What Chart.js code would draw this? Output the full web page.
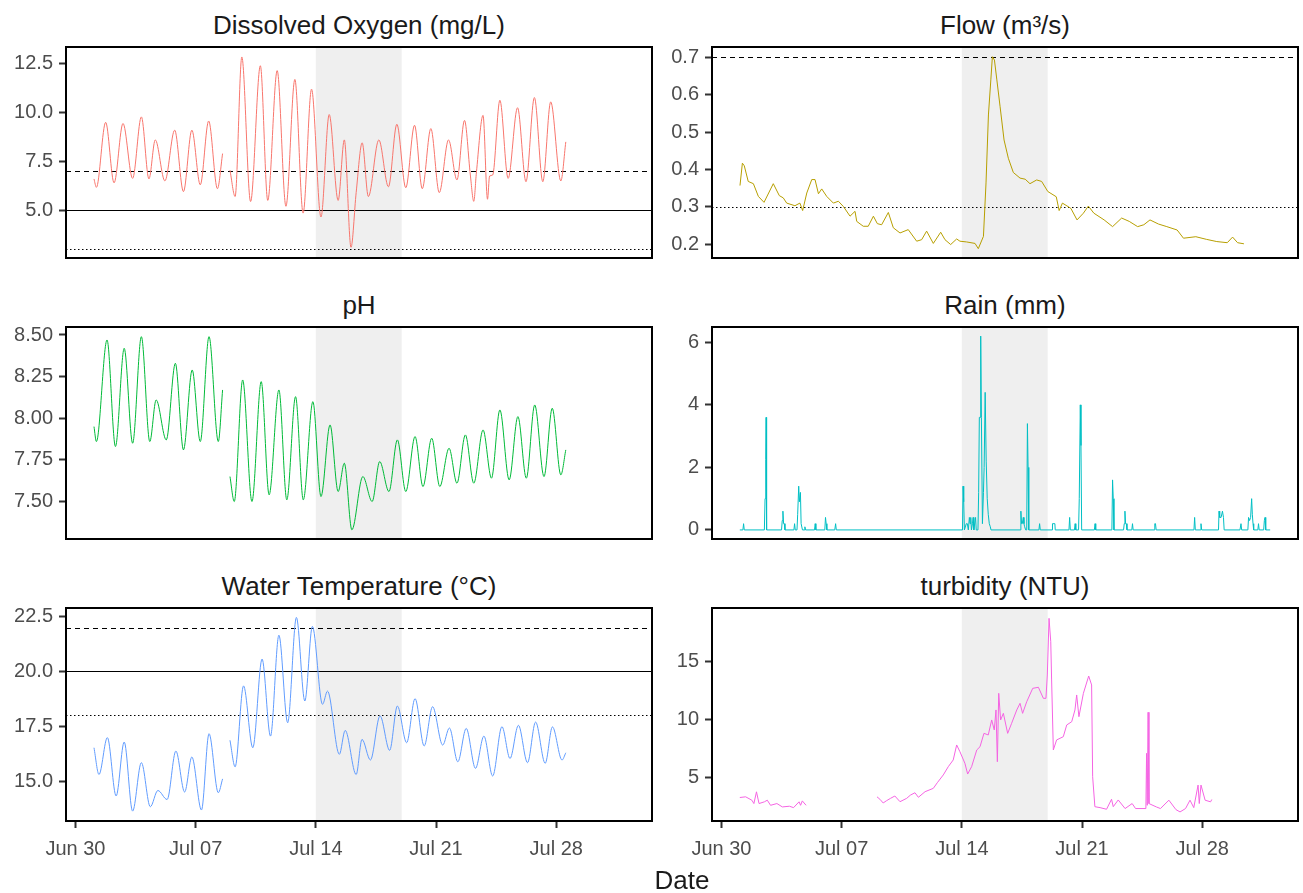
<!DOCTYPE html>
<html>
<head>
<meta charset="utf-8">
<script src="https://cdn.jsdelivr.net/npm/chart.js@4.4.1/dist/chart.umd.min.js"></script>
<style>
  body { margin:0; background:#fff; width:1303px; height:893px; position:relative; overflow:hidden;
         font-family:'Liberation Sans', Arial, sans-serif; }
  canvas { position:absolute; }
  .ttl { position:absolute; text-align:center; font-size:26px; line-height:30px; color:#1a1a1a; white-space:nowrap; }
</style>
</head>
<body>
<div class="ttl" style="left:66px;width:586px;top:10px">Dissolved Oxygen (mg/L)</div>
<div class="ttl" style="left:712px;width:586px;top:10px">Flow (m³/s)</div>
<div class="ttl" style="left:66px;width:586px;top:290px">pH</div>
<div class="ttl" style="left:712px;width:586px;top:290px">Rain (mm)</div>
<div class="ttl" style="left:66px;width:586px;top:571px">Water Temperature (°C)</div>
<div class="ttl" style="left:712px;width:586px;top:571px">turbidity (NTU)</div>

<canvas id="c-do"   width="654" height="215" style="left:0;top:45px"></canvas>
<canvas id="c-flow" width="654" height="215" style="left:646px;top:45px"></canvas>
<canvas id="c-ph"   width="654" height="216" style="left:0;top:325px"></canvas>
<canvas id="c-rain" width="654" height="216" style="left:646px;top:325px"></canvas>
<canvas id="c-temp" width="654" height="275" style="left:0;top:606px"></canvas>
<canvas id="c-turb" width="654" height="275" style="left:646px;top:606px"></canvas>

<div class="ttl" style="left:582px;width:200px;top:865px">Date</div>

<script>
// ---- DATA (x = days since Jun 30 00:00) ----
const dateTicks  = [0, 7, 14, 21, 28];
const dateLabels = ['Jun 30', 'Jul 07', 'Jul 14', 'Jul 21', 'Jul 28'];
const shadeFrom = 14, shadeTo = 19;

// dissolved oxygen, daily peaks / troughs
const doDay = [1.08,1.22,1.76,2.25,2.77,3.33,3.84,4.28,4.65,5.21,5.78,6.29,6.78,7.27,7.76,8.27,8.57,8.8,
  9.0,9.3,9.69,10.2,10.77,11.2,11.75,12.26,12.78,13.26,13.75,14.3,14.78,15.3,15.66,16.05,16.35,16.7,17.06,
  17.67,18.23,18.72,19.24,19.75,20.2,20.7,21.19,21.73,22.22,22.66,23.0,23.2,23.35,23.74,24.0,24.12,24.3,
  24.72,25.2,25.75,26.24,26.73,27.22,27.68,28.27,28.56];
const doVal = [6.6,6.17,9.5,6.4,9.44,6.63,9.78,6.6,8.6,6.5,9.1,5.95,9.1,6.3,9.57,6.1,7.9,null,
  7.05,5.7,12.85,5.44,12.4,5.5,12.15,5.2,11.7,4.85,11.2,4.65,9.9,5.5,8.6,3.1,5.9,8.45,5.7,
  8.6,6.2,9.4,6.15,9.35,6.1,9.18,5.9,8.6,6.55,9.6,6.8,5.45,6.9,9.86,5.56,6.75,6.8,
  10.63,6.63,10.25,6.46,10.77,6.46,10.55,6.5,8.5];
const doTicks = [5, 7.5, 10, 12.5];
const doTickLabels = ['5.0', '7.5', '10.0', '12.5'];
const doRefVals = [7, 5, 3];
const doRefKind = ['dashed', 'solid', 'dotted'];

// pH
const phDay = [1.08,1.22,1.84,2.33,2.84,3.33,3.84,4.33,4.7,5.29,5.82,6.29,6.8,7.27,7.78,8.32,8.57,8.8,
  9.0,9.25,9.74,10.28,10.82,11.28,11.85,12.31,12.82,13.27,13.83,14.3,14.83,15.3,15.66,16.1,16.74,17.28,
  17.72,18.26,18.75,19.24,19.78,20.24,20.75,21.22,21.76,22.22,22.71,23.2,23.74,24.23,24.72,25.26,25.77,
  26.26,26.75,27.29,27.77,28.27,28.56];
const phVal = [7.95,7.86,8.47,7.83,8.42,7.85,8.49,7.86,8.11,7.87,8.33,7.81,8.29,7.86,8.49,7.86,8.17,null,
  7.65,7.5,8.23,7.5,8.22,7.54,8.17,7.51,8.13,7.51,8.1,7.53,7.96,7.56,7.73,7.33,7.65,7.5,
  7.74,7.56,7.87,7.56,7.89,7.59,7.88,7.59,7.82,7.61,7.9,7.61,7.93,7.64,8.05,7.63,8.01,
  7.64,8.08,7.65,8.06,7.66,7.81];
const phTicks = [7.5, 7.75, 8, 8.25, 8.5];
const phTickLabels = ['7.50', '7.75', '8.00', '8.25', '8.50'];

// water temperature
const tDay = [1.08,1.37,1.86,2.37,2.84,3.33,3.84,4.36,4.8,5.34,5.85,6.36,6.78,7.34,7.78,8.32,8.57,8.8,
  9.0,9.3,9.79,10.33,10.87,11.36,11.85,12.36,12.87,13.36,13.8,14.39,14.68,15.37,15.71,16.35,16.69,17.18,
  17.74,18.3,18.75,19.29,19.78,20.31,20.8,21.39,21.78,22.27,22.76,23.3,23.79,24.3,24.84,25.31,25.8,
  26.33,26.8,27.36,27.78,28.34,28.56];
const tVal = [16.52,15.3,16.98,14.32,16.78,13.63,15.84,13.83,14.57,14.16,16.37,14.5,16.1,13.68,17.16,14.47,15.1,null,
  16.86,15.65,19.34,16.52,20.56,17.05,21.65,17.66,22.46,18.65,22.05,18.5,19.1,16.22,17.31,15.3,16.9,15.96,
  17.97,16.4,18.42,16.75,18.76,16.6,18.39,16.64,17.42,15.88,17.4,15.58,17.05,15.23,17.48,16.03,17.54,
  15.84,17.69,15.81,17.47,15.96,16.29];
const tTicks = [15, 17.5, 20, 22.5];
const tTickLabels = ['15.0', '17.5', '20.0', '22.5'];
const tRefVals = [22, 20, 18];
const tRefKind = ['dashed', 'solid', 'dotted'];

// flow
const flowDay = [1.08,1.22,1.33,1.56,1.86,2.15,2.48,3.02,3.37,3.6,3.8,4.28,4.57,4.73,4.97,5.26,5.45,5.65,5.84,6.13,
  6.52,6.81,7.1,7.49,7.78,7.88,8.26,8.55,8.85,9.08,9.33,9.72,10.01,10.4,10.88,11.37,11.66,11.95,12.34,12.77,
  13.02,13.35,13.7,13.89,14.28,14.77,14.96,15.26,15.41,15.55,15.69,15.78,15.9,16.04,16.23,16.46,16.71,17.0,17.39,17.69,
  17.97,18.36,18.65,19.01,19.5,19.67,19.86,20.35,20.71,21.08,21.37,21.69,22.29,22.78,23.31,23.75,24.24,24.6,24.96,25.45,
  25.94,26.54,26.91,27.63,28.24,28.85,29.46,29.77,30.06,30.43];
const flowVal = [0.357,0.417,0.41,0.368,0.362,0.328,0.312,0.362,0.33,0.324,0.31,0.303,0.31,0.29,0.337,0.373,0.373,0.335,0.348,0.328,
  0.31,0.315,0.301,0.275,0.288,0.261,0.248,0.248,0.275,0.255,0.252,0.285,0.244,0.23,0.239,0.208,0.212,0.235,0.202,0.232,
  0.212,0.199,0.214,0.208,0.206,0.202,0.188,0.221,0.364,0.546,0.64,0.702,0.693,0.64,0.568,0.479,0.43,0.392,0.377,0.374,
  0.362,0.372,0.368,0.341,0.327,0.29,0.31,0.296,0.265,0.283,0.302,0.283,0.265,0.247,0.27,0.261,0.247,0.252,0.265,0.254,
  0.247,0.238,0.216,0.22,0.213,0.207,0.204,0.219,0.204,0.201];
const flowTicks = [0.2, 0.3, 0.4, 0.5, 0.6, 0.7];
const flowTickLabels = ['0.2', '0.3', '0.4', '0.5', '0.6', '0.7'];
const flowRefVals = [0.7, 0.3];
const flowRefKind = ['dashed', 'dotted'];

// rain
const rainDay = [1.07,
  1.25,1.29,1.33,
  2.5,2.54,2.58,2.6,2.63,
  3.5,3.54,3.58,3.62,3.66,3.7,
  4.22,4.26,4.3,
  4.4,4.44,4.5,4.54,4.6,4.64,4.68,4.72,
  4.82,4.86,4.9,
  5.42,5.46,5.5,
  6.02,6.06,6.1,6.14,
  6.6,6.65,6.69,
  14.04,14.07,14.11,14.15,
  14.26,14.32,14.38,14.44,14.48,14.52,14.56,14.62,14.66,14.7,14.8,14.84,
  14.94,14.98,15.02,15.06,15.1,15.14,15.2,15.26,15.3,15.36,15.42,15.48,15.54,15.6,15.66,15.7,
  17.4,17.44,17.48,17.52,17.58,17.62,17.66,17.72,
  17.78,17.82,17.86,17.9,
  18.49,18.53,18.57,
  19.26,19.28,19.42,19.44,
  20.24,20.28,20.32,
  20.56,20.6,20.64,
  20.8,20.84,20.9,20.94,20.98,
  21.72,21.76,21.8,
  22.74,22.78,22.82,22.86,
  23.42,23.46,23.5,23.54,23.58,23.62,
  23.9,23.94,23.98,
  25.2,25.24,25.28,25.32,
  27.52,27.56,27.6,
  27.9,27.93,27.97,
  28.95,28.98,29.02,29.1,29.18,29.24,29.28,
  30.2,30.26,30.3,
  30.66,30.7,30.76,30.82,30.88,30.92,30.96,31.0,
  31.24,31.28,31.32,
  31.58,31.62,31.66,31.7,
  31.96];
const rainMm = [0,
  0,0.2,0,
  0,1.0,2.25,3.6,0,
  0,0.3,0.6,0.2,0.2,0,
  0,0.2,0,
  0,0.5,1.4,0.9,1.2,0.2,0.2,0,
  0,0.1,0,
  0,0.2,0,
  0,0.4,0.2,0,
  0,0.2,0,
  0,1.4,0.9,0,
  0.2,0.2,0,0.4,0.2,0.4,0,0.2,0.4,0,0.4,0,
  0,1.2,3.6,3.6,6.2,3.6,0.2,1.2,2.0,4.4,2.2,1.0,0.5,0.2,0.1,0,
  0,0.6,0.2,0.2,0.4,0.2,0.1,0,
  0,3.4,2.0,0,
  0,0.2,0,
  0,0.2,0.2,0,
  0,0.4,0,
  0,0.2,0,
  0,1.0,4.0,2.7,0,
  0,0.2,0,
  0,1.6,1.0,0,
  0,0.2,0.6,0.2,0.2,0,
  0,0.2,0,
  0,0.2,0.2,0,
  0,0.4,0,
  0,0.2,0,
  0,0.6,0.4,0.4,0.6,0.4,0,
  0,0.2,0,
  0,0.4,0.3,0.4,1.0,0.5,0.2,0,
  0,0.2,0,
  0,0.3,0.4,0,
  0];
const rainTicks = [0, 2, 4, 6];
const rainTickLabels = ['0', '2', '4', '6'];

// turbidity
const turbDay = [1.07,1.41,1.77,1.89,2.04,2.19,2.5,2.67,2.86,3.23,3.55,3.96,4.2,4.52,4.61,4.71,4.93,7.0,
  9.06,9.23,9.42,9.62,9.85,10.1,10.4,10.79,11.0,11.27,11.47,11.86,12.34,12.57,12.92,13.21,13.5,13.7,13.89,
  14.18,14.34,14.57,14.87,15.06,15.29,15.54,15.74,15.89,15.99,16.07,16.15,16.26,16.42,16.67,16.9,
  17.2,17.39,17.54,17.78,18.13,18.46,18.75,18.9,18.98,19.08,19.18,19.23,19.33,19.52,19.91,
  20.11,20.4,20.59,20.69,20.82,21.08,21.39,21.56,21.62,21.75,22.05,22.43,22.72,22.82,23.11,
  23.51,23.92,24.12,24.72,24.76,24.8,24.85,24.9,25.33,25.57,26.06,26.47,26.71,
  27.03,27.29,27.51,27.76,27.83,27.93,28.17,28.49,28.56];
const turbVal = [3.27,3.33,3.04,2.75,3.76,2.75,2.9,3.04,2.6,2.75,2.46,2.52,2.4,2.9,2.6,2.98,2.6,null,
  3.33,3.12,2.8,3.0,3.2,3.4,2.91,3.2,3.47,3.68,3.29,3.77,4.06,4.54,5.21,5.92,6.5,7.79,7.21,
  6.21,5.29,5.92,7.36,7.64,8.79,8.65,9.94,9.08,10.8,6.35,12.23,9.94,10.51,8.79,9.65,
  10.8,11.37,10.51,11.51,12.66,12.75,11.8,11.8,13.81,18.68,16.67,13.38,7.36,8.22,8.5,
  9.51,9.79,10.8,12.09,10.22,12.23,13.72,12.95,5.06,2.48,2.4,2.26,3.12,2.48,3.06,
  2.32,2.75,2.32,2.32,7.07,2.6,10.6,2.75,2.46,2.32,3.04,2.23,2.03,
  2.32,3.04,2.4,4.34,2.75,4.34,3.04,2.9,3.1];
const turbTicks = [5, 10, 15];
const turbTickLabels = ['5', '10', '15'];

// ---- STYLE ----
const FONT = "'Liberation Sans', Arial, sans-serif";
const X_MIN = -0.55, X_MAX = 33.58;
const DASH = { dashed:[5,4], solid:[], dotted:[1.5,2.5] };

function pts(xs, ys) { return xs.map((x, i) => ({ x:x, y:ys[i] })); }

// shaded window, reference lines and the panel frame
const deco = {
  id:'deco',
  beforeDatasetsDraw(chart, args, o) {
    const { ctx, chartArea:a, scales:{ x, y } } = chart;
    ctx.save();
    const x0 = x.getPixelForValue(shadeFrom), x1 = x.getPixelForValue(shadeTo);
    ctx.fillStyle = '#efefef';
    ctx.fillRect(x0, a.top, x1 - x0, a.bottom - a.top);
    (o.refVals || []).forEach((v, i) => {
      const py = Math.round(y.getPixelForValue(v)) + 0.5;
      ctx.strokeStyle = '#000';
      ctx.lineWidth = 1.1;
      ctx.setLineDash(DASH[o.refKind[i]]);
      ctx.beginPath(); ctx.moveTo(a.left, py); ctx.lineTo(a.right, py); ctx.stroke();
    });
    ctx.restore();
  },
  afterDatasetsDraw(chart) {
    const { ctx, chartArea:a } = chart;
    ctx.save();
    ctx.strokeStyle = '#000'; ctx.lineWidth = 2; ctx.setLineDash([]);
    ctx.strokeRect(a.left, a.top, a.right - a.left, a.bottom - a.top);
    ctx.restore();
  }
};

// fixed axis sizes so every panel lines up
function fixX(show) {
  return ax => { ax.height = show ? 60 : 0; ax.paddingLeft = 0; ax.paddingRight = 0; };
}
function fixY(ax) { ax.width = 66; ax.paddingTop = 0; ax.paddingBottom = 0; }

function panel(id, p) {
  return new Chart(document.getElementById(id), {
    type:'line',
    data:{ datasets:[{
      data: pts(p.xs, p.ys),
      borderColor: p.color, borderWidth: 1, pointRadius: 0,
      spanGaps: false, cubicInterpolationMode: p.smooth ? 'monotone' : 'default', tension: 0
    }] },
    options:{
      responsive:false, animation:false, devicePixelRatio:1, events:[],
      layout:{ padding:{ top:2, right:2, bottom: p.showX ? 0 : 2, left:0 } },
      plugins:{ legend:{ display:false }, tooltip:{ enabled:false },
                deco:{ refVals: p.refVals, refKind: p.refKind } },
      scales:{
        x:{
          type:'linear', min:X_MIN, max:X_MAX, display: !!p.showX,
          afterBuildTicks: ax => { ax.ticks = dateTicks.map(v => ({ value:v })); },
          afterFit: fixX(!!p.showX),
          border:{ display:false },
          grid:{ drawOnChartArea:false, tickLength:7, tickWidth:2, tickColor:'#333' },
          ticks:{ callback:(v, i) => dateLabels[i], color:'#4d4d4d', font:{ family:FONT, size:20 },
                  padding:9, maxRotation:0, autoSkip:false }
        },
        y:{
          type:'linear', min:p.min, max:p.max,
          afterBuildTicks: ax => { ax.ticks = p.ticks.map(v => ({ value:v })); },
          afterFit: fixY,
          border:{ display:false },
          grid:{ drawOnChartArea:false, tickLength:7, tickWidth:2, tickColor:'#333' },
          ticks:{ callback:(v, i) => p.labels[i], color:'#4d4d4d', font:{ family:FONT, size:20 },
                  padding:6, autoSkip:false }
        }
      }
    },
    plugins:[deco]
  });
}

panel('c-do',   { xs:doDay, ys:doVal, color:'#F8766D', smooth:true, min:2.55, max:13.36,
                  ticks:doTicks, labels:doTickLabels, refVals:doRefVals, refKind:doRefKind });
panel('c-flow', { xs:flowDay, ys:flowVal, color:'#B79F00', min:0.163, max:0.728,
                  ticks:flowTicks, labels:flowTickLabels, refVals:flowRefVals, refKind:flowRefKind });
panel('c-ph',   { xs:phDay, ys:phVal, color:'#00BA38', smooth:true, min:7.275, max:8.548,
                  ticks:phTicks, labels:phTickLabels });
panel('c-rain', { xs:rainDay, ys:rainMm, color:'#00BFC4', min:-0.29, max:6.49,
                  ticks:rainTicks, labels:rainTickLabels });
panel('c-temp', { xs:tDay, ys:tVal, color:'#619CFF', smooth:true, min:13.18, max:22.89, showX:true,
                  ticks:tTicks, labels:tTickLabels, refVals:tRefVals, refKind:tRefKind });
panel('c-turb', { xs:turbDay, ys:turbVal, color:'#F564E3', min:1.25, max:19.57, showX:true,
                  ticks:turbTicks, labels:turbTickLabels });
</script>
</body>
</html>
